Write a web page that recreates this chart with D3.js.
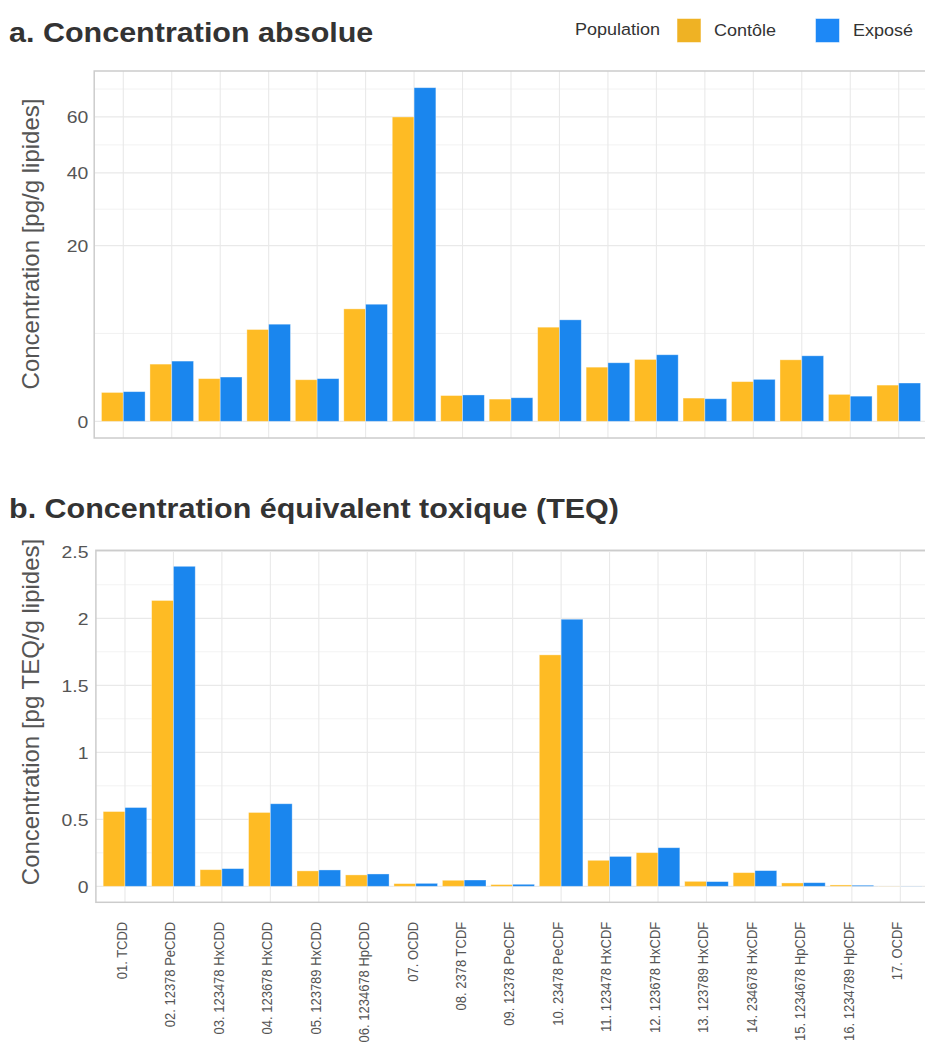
<!DOCTYPE html>
<html>
<head>
<meta charset="utf-8">
<script src="https://cdn.jsdelivr.net/npm/d3@7"></script>
<style>
  body { margin: 0; background: #fff; }
  svg { display: block; font-family: "Liberation Sans", Arial, sans-serif; }
</style>
</head>
<body>
<div id="chart"></div>
<script>
/* DATA */
const categories = [
  "01. TCDD", "02. 12378 PeCDD", "03. 123478 HxCDD", "04. 123678 HxCDD",
  "05. 123789 HxCDD", "06. 1234678 HpCDD", "07. OCDD", "08. 2378 TCDF",
  "09. 12378 PeCDF", "10. 23478 PeCDF", "11. 123478 HxCDF", "12. 123678 HxCDF",
  "13. 123789 HxCDF", "14. 234678 HxCDF", "15. 1234678 HpCDF", "16. 1234789 HpCDF",
  "17. OCDF"
];
const groups = ["Contôle", "Exposé"];

// a. absolute concentration (pg/g lipides)
const absControle = [0.54, 2.12, 1.18, 5.46, 1.12, 8.19, 60.0, 0.43, 0.32, 5.74, 1.90, 2.48, 0.35, 1.02, 2.45, 0.47, 0.85];
const absExpose   = [0.57, 2.35, 1.27, 6.11, 1.18, 8.88, 72.1, 0.45, 0.36, 6.67, 2.22, 2.87, 0.33, 1.14, 2.78, 0.41, 0.95];

// b. toxic equivalent (pg TEQ/g lipides)
const teqControle = [0.558, 2.133, 0.124, 0.551, 0.115, 0.085, 0.020, 0.045, 0.013, 1.727, 0.194, 0.251, 0.037, 0.102, 0.025, 0.010, 0.001];
const teqExpose   = [0.588, 2.388, 0.132, 0.616, 0.122, 0.092, 0.022, 0.047, 0.015, 1.993, 0.223, 0.288, 0.035, 0.117, 0.027, 0.008, 0.001];

const absTicks = [0, 20, 40, 60];
const teqTicks = [0, 0.5, 1, 1.5, 2, 2.5];

/* CONSTANTS */
const WIDTH = 925;
const HEIGHT = 1043;
const FONT = "Liberation Sans, Arial, sans-serif";
const BAR_COLORS = { "Contôle": "#FEBB24", "Exposé": "#1A86EE" };
const KEY_COLORS = { "Contôle": "#EFB224", "Exposé": "#1D88F6" };
const TEXT_STRETCH = 1.14; // the reference looks a bit wide

const svg = d3
  .select("#chart")
  .append("svg")
  .attr("width", WIDTH)
  .attr("height", HEIGHT);

/* HELPERS */
function stretchedText(parent, x, y, str, opts) {
  return parent
    .append("text")
    .attr("transform", `translate(${x},${y}) scale(${opts.sx || 1},1)`)
    .attr("text-anchor", opts.anchor || "start")
    .attr("font-size", opts.size)
    .attr("font-weight", opts.weight || "normal")
    .attr("fill", opts.color || "#333")
    .text(str);
}

// minor breaks halfway between majors (in transformed space, like ggplot)
function minorBreaks(majors, fwd, inv) {
  const out = [];
  const step = fwd(majors[majors.length - 1]) - fwd(majors[majors.length - 2]);
  const all = majors.map(fwd).concat([fwd(majors[majors.length - 1]) + step]);
  for (let i = 0; i < all.length - 1; i++) out.push(inv((all[i] + all[i + 1]) / 2));
  return out;
}

/* PANEL */
function drawPanel(p) {
  const g = svg.append("g");

  const x = d3.scaleBand()
    .domain(categories)
    .range([p.left, p.right])
    .paddingInner(0.1)
    .paddingOuter(0.15);
  const xSub = d3.scaleBand().domain(groups).range([0, x.bandwidth()]);

  // grid
  g.append("g")
    .selectAll("line")
    .data(p.minor.filter((v) => p.y(v) > p.top && p.y(v) < p.bottom))
    .enter()
    .append("line")
    .attr("x1", p.left).attr("x2", p.right)
    .attr("y1", (d) => p.y(d)).attr("y2", (d) => p.y(d))
    .attr("stroke", "#efefef")
    .attr("stroke-width", 0.8);

  g.append("g")
    .selectAll("line")
    .data(p.ticks)
    .enter()
    .append("line")
    .attr("x1", p.left).attr("x2", p.right)
    .attr("y1", (d) => p.y(d)).attr("y2", (d) => p.y(d))
    .attr("stroke", "#e9e9e9")
    .attr("stroke-width", 1.3);

  g.append("g")
    .selectAll("line")
    .data(categories)
    .enter()
    .append("line")
    .attr("x1", (d) => x(d) + x.bandwidth() / 2)
    .attr("x2", (d) => x(d) + x.bandwidth() / 2)
    .attr("y1", p.top).attr("y2", p.bottom)
    .attr("stroke", "#e9e9e9")
    .attr("stroke-width", 1.1);

  // bars
  const rows = categories.map((c, i) => ({ cat: c, vals: [p.a[i], p.b[i]] }));
  g.append("g")
    .selectAll("g")
    .data(rows)
    .enter()
    .append("g")
    .attr("transform", (d) => `translate(${x(d.cat)},0)`)
    .selectAll("rect")
    .data((d) => groups.map((k, j) => ({ key: k, v: d.vals[j] })))
    .enter()
    .append("rect")
    .attr("x", (d) => xSub(d.key))
    .attr("width", xSub.bandwidth())
    .attr("y", (d) => p.y(d.v))
    .attr("height", (d) => p.y(0) - p.y(d.v))
    .attr("fill", (d) => BAR_COLORS[d.key])
    .attr("stroke", "#fff")
    .attr("stroke-opacity", 0.45)
    .attr("stroke-width", 0.8);

  // border
  g.append("rect")
    .attr("x", p.left).attr("y", p.top)
    .attr("width", p.right - p.left).attr("height", p.bottom - p.top)
    .attr("fill", "none")
    .attr("stroke", "#cccccc")
    .attr("stroke-width", 1.5);

  // y axis
  const yAxis = g.append("g")
    .attr("transform", `translate(${p.left},0)`)
    .call(d3.axisLeft(p.y).tickValues(p.ticks).tickSize(0).tickFormat(p.fmt));
  yAxis.select(".domain").remove();
  yAxis.selectAll("text")
    .attr("x", -p.pad / TEXT_STRETCH)
    .attr("dy", "0.35em")
    .attr("transform", `scale(${TEXT_STRETCH},1)`)
    .attr("font-family", FONT)
    .attr("font-size", 17)
    .attr("fill", "#555");

  // x axis labels
  if (p.showX) {
    const xAxis = g.append("g")
      .attr("transform", `translate(0,${p.bottom})`)
      .call(d3.axisBottom(x).tickSize(0));
    xAxis.select(".domain").remove();
    xAxis.selectAll("text")
      .attr("x", -19.5)
      .attr("y", 0)
      .attr("dy", "0.12em")
      .attr("text-anchor", "end")
      .attr("transform", "scale(1.15,1) rotate(-90)")
      .attr("font-family", FONT)
      .attr("font-size", 13)
      .attr("fill", "#555");
  }

  // y title
  g.append("text")
    .attr("transform", `translate(39,${p.yTitleY}) rotate(-90)`)
    .attr("text-anchor", "middle")
    .attr("font-size", 24)
    .attr("fill", "#555")
    .text(p.yTitle);

  // panel title
  stretchedText(svg, 9, p.titleY, p.title, { size: 27, weight: "bold", sx: 1.13, color: "#333" });
}

/* MAIN */
// a. sqrt scale, padded 5% in transformed space
const absMax = d3.max(absControle.concat(absExpose));
const sPad = 0.05 * Math.sqrt(absMax);
const yAbs = d3.scaleSqrt()
  .domain([-(sPad * sPad), Math.pow(Math.sqrt(absMax) + sPad, 2)])
  .range([438, 71]);

drawPanel({
  left: 94.2, right: 927.8, top: 71, bottom: 438,
  y: yAbs, a: absControle, b: absExpose,
  ticks: absTicks,
  minor: minorBreaks(absTicks, Math.sqrt, (v) => v * v),
  fmt: d3.format("d"), pad: 6,
  title: "a. Concentration absolue", titleY: 42,
  yTitle: "Concentration [pg/g lipides]", yTitleY: 244,
  showX: false
});

// b. linear scale
const teqMax = d3.max(teqControle.concat(teqExpose));
const tPad = 0.05 * teqMax;
const yTeq = d3.scaleLinear()
  .domain([-tPad, teqMax + tPad])
  .range([902.3, 550.3]);

drawPanel({
  left: 95.9, right: 929.4, top: 550.3, bottom: 902.3,
  y: yTeq, a: teqControle, b: teqExpose,
  ticks: teqTicks,
  minor: minorBreaks(teqTicks, (v) => v, (v) => v),
  fmt: (d) => String(d), pad: 7.5,
  title: "b. Concentration équivalent toxique (TEQ)", titleY: 518,
  yTitle: "Concentration [pg TEQ/g lipides]", yTitleY: 712,
  showX: true
});

// legend
const legend = svg.append("g");
stretchedText(legend, 575, 35, "Population", { size: 17, sx: 1.06, color: "#333" });
const keyX = [677, 815.5];
const labelX = [714, 853];
groups.forEach((k, i) => {
  legend.append("rect")
    .attr("x", keyX[i]).attr("y", 18.5)
    .attr("width", 24).attr("height", 24)
    .attr("fill", KEY_COLORS[k])
    .attr("stroke", "#fff")
    .attr("stroke-opacity", 0.5);
  stretchedText(legend, labelX[i], 36, k, { size: 17, sx: 1.06, color: "#333" });
});
</script>
</body>
</html>
